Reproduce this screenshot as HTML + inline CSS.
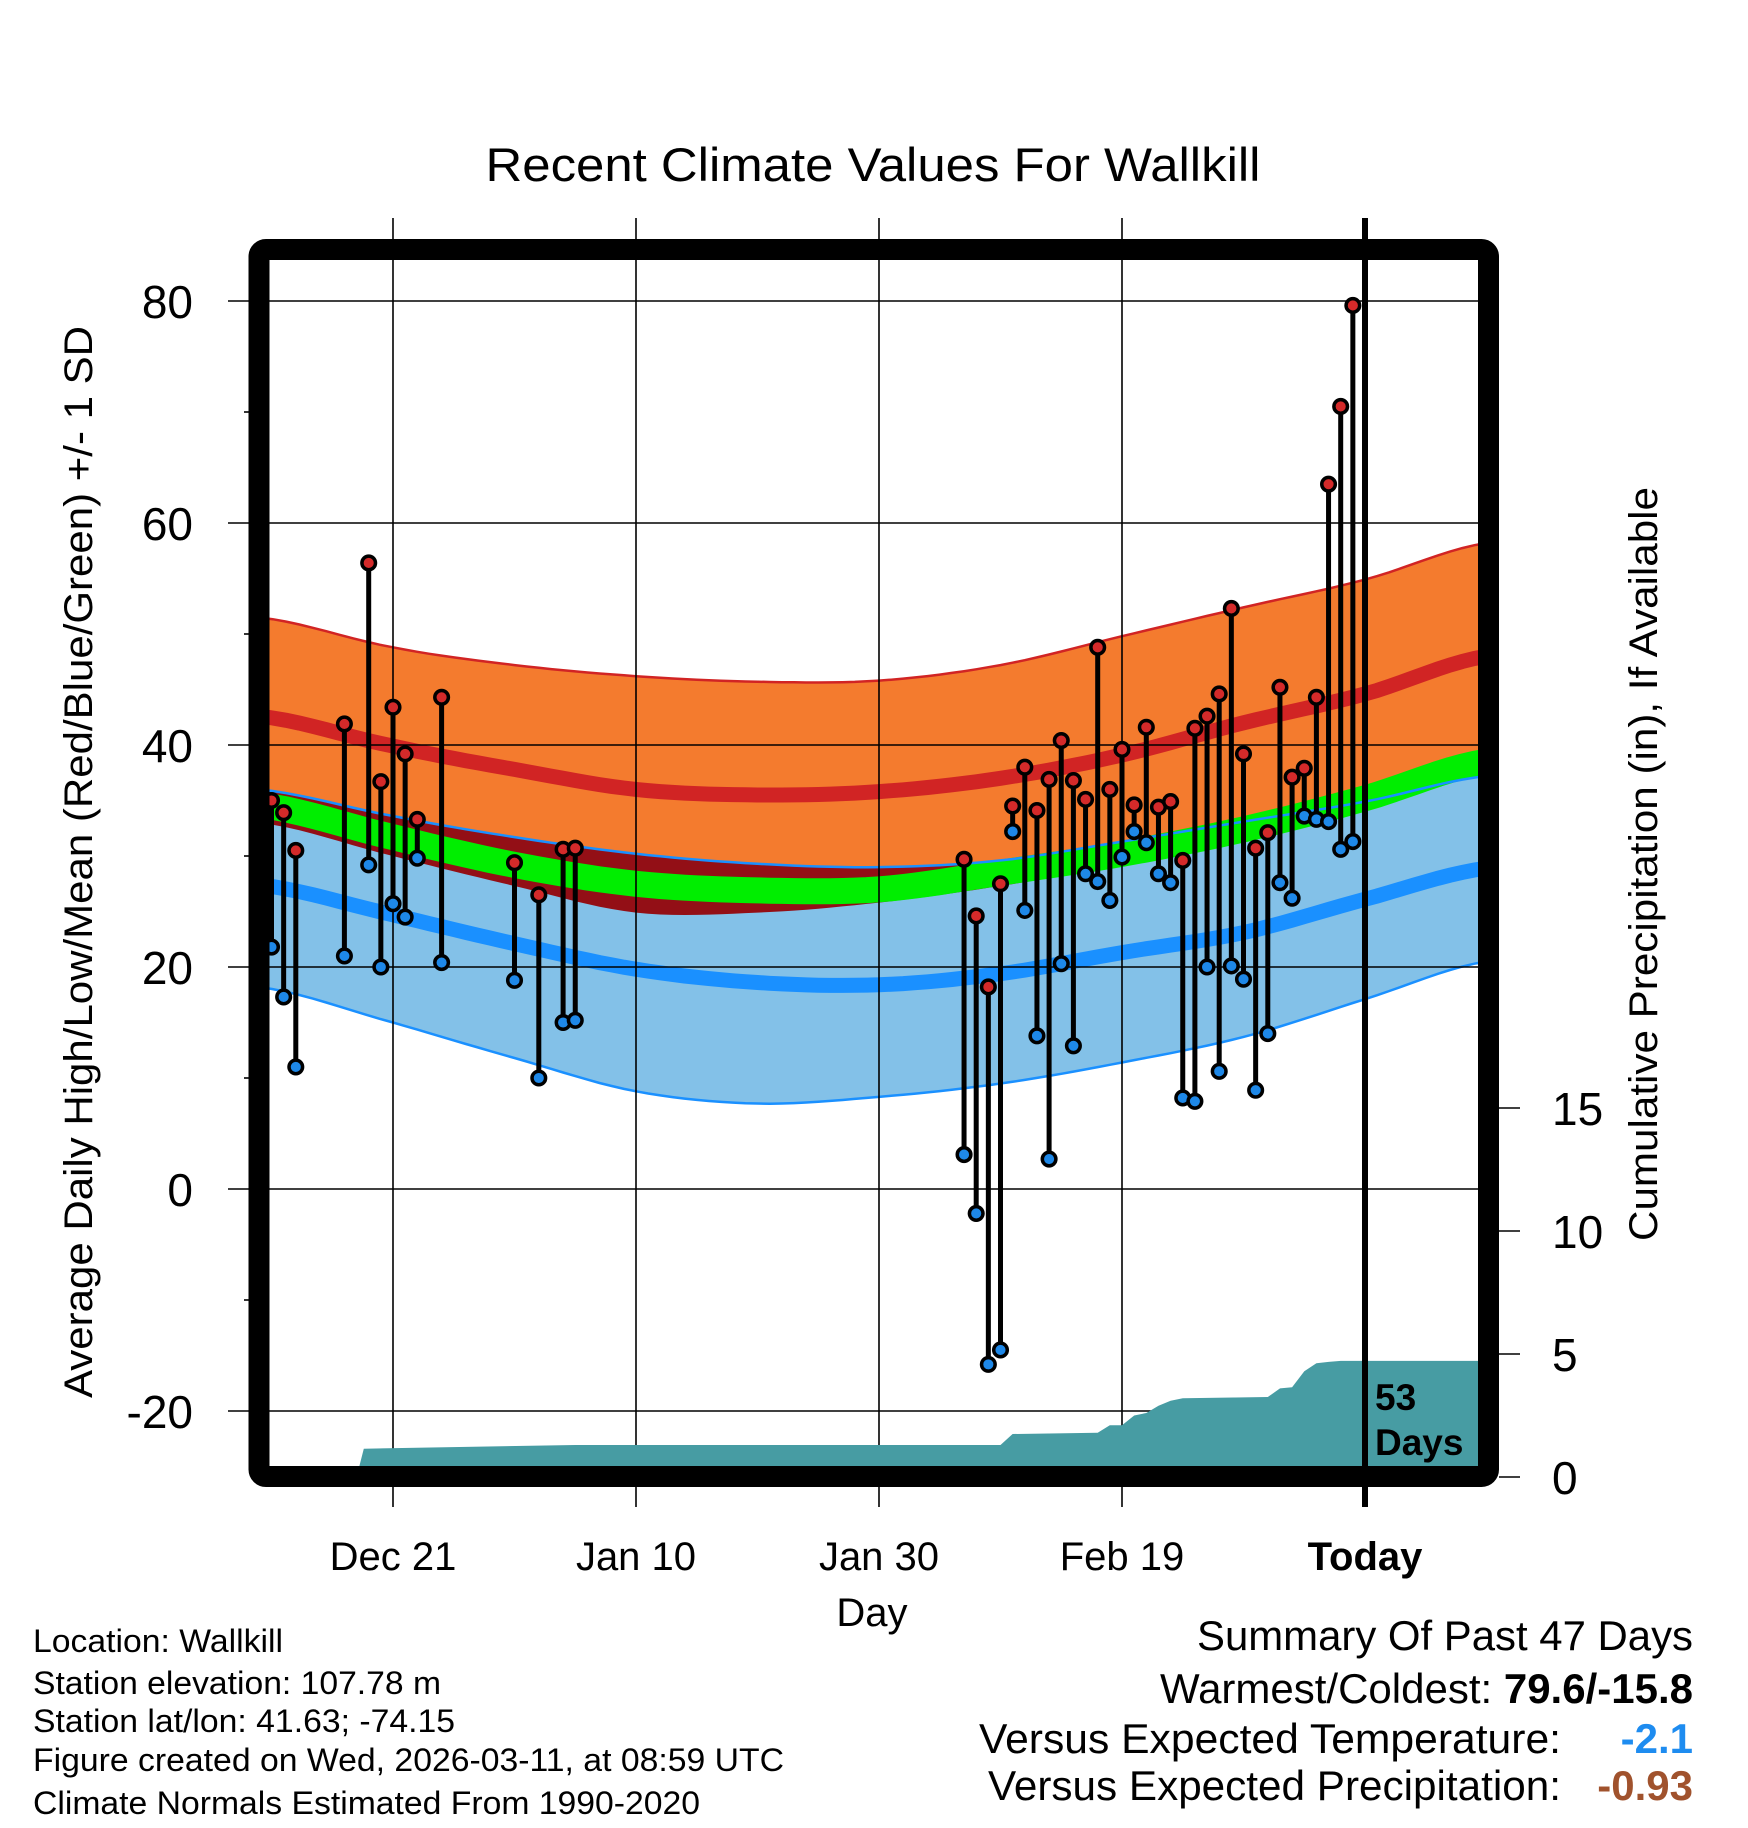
<!DOCTYPE html>
<html><head><meta charset="utf-8"><style>
html,body{margin:0;padding:0;background:#fff;}
svg{display:block;font-family:"Liberation Sans",sans-serif;}
</style></head><body>
<svg id="chart" width="1748" height="1828" viewBox="0 0 1748 1828" xmlns="http://www.w3.org/2000/svg">
<defs><clipPath id="plotclip"><rect x="269" y="260" width="1209" height="1206"/></clipPath></defs>
<rect x="0" y="0" width="1748" height="1828" fill="#fff"/>
<text x="873" y="181" font-size="47" text-anchor="middle" textLength="775" lengthAdjust="spacingAndGlyphs">Recent Climate Values For Wallkill</text>
<g id="bands" clip-path="url(#plotclip)"></g>
<g id="grid"></g>
<g id="precip" clip-path="url(#plotclip)"></g>
<g id="marks"></g>
<g id="axes"></g>
<rect x="259" y="249.5" width="1229.5" height="1227" rx="7" fill="none" stroke="#000" stroke-width="21"/>
<text x="1375" y="1410" font-size="37" font-weight="bold">53</text>
<text x="1375" y="1455" font-size="37" font-weight="bold">Days</text>
<text transform="translate(92,862) rotate(-90)" font-size="40" text-anchor="middle" textLength="1072" lengthAdjust="spacingAndGlyphs">Average Daily High/Low/Mean (Red/Blue/Green) +/- 1 SD</text>
<text transform="translate(1657,864) rotate(-90)" font-size="40" text-anchor="middle" textLength="754" lengthAdjust="spacingAndGlyphs">Cumulative Precipitation (in), If Available</text>
<text x="872" y="1626" font-size="40" text-anchor="middle">Day</text>
<g font-size="32">
<text x="33" y="1652" textLength="250" lengthAdjust="spacingAndGlyphs">Location: Wallkill</text>
<text x="33" y="1694" textLength="408" lengthAdjust="spacingAndGlyphs">Station elevation: 107.78 m</text>
<text x="33" y="1732" textLength="422" lengthAdjust="spacingAndGlyphs">Station lat/lon: 41.63; -74.15</text>
<text x="33" y="1771" textLength="751" lengthAdjust="spacingAndGlyphs">Figure created on Wed, 2026-03-11, at 08:59 UTC</text>
<text x="33" y="1814" textLength="667" lengthAdjust="spacingAndGlyphs">Climate Normals Estimated From 1990-2020</text>
</g>
<g font-size="42">
<text x="1197" y="1650" textLength="496" lengthAdjust="spacingAndGlyphs">Summary Of Past 47 Days</text>
<text x="1693" y="1703" text-anchor="end">Warmest/Coldest: <tspan font-weight="bold">79.6/-15.8</tspan></text>
<text x="979" y="1753" textLength="582" lengthAdjust="spacingAndGlyphs">Versus Expected Temperature:</text>
<text x="1693" y="1753" text-anchor="end" fill="#1e8cf0" font-weight="bold">-2.1</text>
<text x="988" y="1800" textLength="573" lengthAdjust="spacingAndGlyphs">Versus Expected Precipitation:</text>
<text x="1693" y="1800" text-anchor="end" fill="#a0522d" font-weight="bold">-0.93</text>
</g>
</svg>
<script>
// ---- data ----
const obsDays = [-10,-9,-8,-4,-2,-1,0,1,2,4,10,12,14,15,47,48,49,50,51,52,53,54,55,56,57,58,59,60,61,62,63,64,65,66,67,68,69,70,71,72,73,74,75,76,77,78,79];
const highs = [35,33.9,30.5,41.9,56.4,36.7,43.4,39.2,33.3,44.3,29.4,26.5,30.6,30.7,29.7,24.6,18.2,27.5,34.5,38,34.1,36.9,40.4,36.8,35.1,48.8,36,39.6,34.6,41.6,34.4,34.9,29.6,41.5,42.6,44.6,52.3,39.2,30.7,32.1,45.2,37.1,37.9,44.3,63.5,70.5,79.6];
const lows = [21.8,17.3,11,21,29.2,20,25.7,24.5,29.8,20.4,18.8,10,15,15.2,3.1,-2.2,-15.8,-14.5,32.2,25.1,13.8,2.7,20.3,12.9,28.4,27.7,26,29.9,32.2,31.2,28.4,27.6,8.2,7.9,20,10.6,20.1,18.9,8.9,14,27.6,26.2,33.6,33.3,33.1,30.6,31.3];
const normDays = [-11,0,10,20,30,40,50,60,70,80,90];
const hiUpper = [51.5,48.8,47.2,46.2,45.7,45.8,47.2,49.8,52.4,54.9,58.2];
const hiMean = [42.6,39.9,37.8,36.0,35.5,35.8,37.0,39.1,42.0,44.6,48.0];
const hiLower = [33.0,30.0,27.3,24.9,24.9,25.8,27.3,29.2,31.4,34.5,37.6];
const meanNorm = [34.6,31.7,29.2,27.5,26.9,27.0,28.5,30.2,32.4,35.2,38.5];
const loUpper = [36.0,33.6,31.7,30.2,29.3,29.0,29.6,31.3,33.1,34.9,37.2];
const loMean = [27.4,24.7,22.1,19.8,18.6,18.4,19.4,21.3,23.1,26.1,28.9];
const loLower = [18.2,15.0,11.8,8.8,7.7,8.3,9.5,11.4,13.7,17.1,20.5];
const precipDays = [-11,-3,-2.4,15,50,51,58,59,60,61,62,63,64,65,72,73,74,75,76,77,78,90];
const precipVals = [0,0,1.15,1.3,1.3,1.75,1.8,2.1,2.1,2.5,2.6,2.9,3.1,3.2,3.25,3.6,3.65,4.3,4.62,4.68,4.72,4.72];
const xTickDays = [0,20,40,60,80];
const xTickLabels = ['Dec 21','Jan 10','Jan 30','Feb 19','Today'];
const yTicks = [80,60,40,20,0,-20];
const yMinor = [70,50,30,10,-10];
const pTicks = [0,5,10,15];

// ---- scales ----
const xDay = d => 393 + d*12.15;
const yT = v => 1189 - v*11.1;
const yP = p => 1477 - p*24.6;
const NS = 'http://www.w3.org/2000/svg';
function mk(tag, parent, attrs){const e=document.createElementNS(NS,tag);for(const k in attrs)e.setAttribute(k,attrs[k]);parent.appendChild(e);return e;}

function smooth(days, vals){
  const pts=[];
  for(let i=0;i<days.length-1;i++){
    const p0=vals[Math.max(i-1,0)],p1=vals[i],p2=vals[i+1],p3=vals[Math.min(i+2,vals.length-1)];
    for(let s=0;s<10;s++){const t=s/10;
      const v=0.5*((2*p1)+(-p0+p2)*t+(2*p0-5*p1+4*p2-p3)*t*t+(-p0+3*p1-3*p2+p3)*t*t*t);
      pts.push([days[i]+(days[i+1]-days[i])*t,v]);}
  }
  pts.push([days[days.length-1],vals[vals.length-1]]);
  return pts;
}
function line(pts){return pts.map((p,i)=>(i?'L':'M')+xDay(p[0]).toFixed(1)+' '+yT(p[1]).toFixed(1)).join(' ');}
function band(top,bot){
  return line(top)+' '+bot.slice().reverse().map(p=>'L'+xDay(p[0]).toFixed(1)+' '+yT(p[1]).toFixed(1)).join(' ')+' Z';
}
const bands=document.getElementById('bands');
const sHU=smooth(normDays,hiUpper), sHM=smooth(normDays,hiMean), sHL=smooth(normDays,hiLower);
const sM=smooth(normDays,meanNorm), sLU=smooth(normDays,loUpper), sLM=smooth(normDays,loMean), sLL=smooth(normDays,loLower);

let el;
el=mk('path',bands,{d:band(sHU,sLU),fill:'#f47b2e'});


el=mk('path',bands,{d:band(sLU,sLL),fill:'#83c1e8'});


const sOv=sHL.map((p,i)=>[p[0],Math.min(p[1],sLU[i][1])]);
el=mk('path',bands,{d:band(sLU,sOv),fill:'#930f16'});


el=mk('path',bands,{d:line(sM),fill:'none',stroke:'#00ee00','stroke-width':26});


el=mk('path',bands,{d:line(sHM),fill:'none',stroke:'#d12424','stroke-width':15});


el=mk('path',bands,{d:line(sLM),fill:'none',stroke:'#1a90ff','stroke-width':15});


el=mk('path',bands,{d:line(sHU),fill:'none',stroke:'#d12424','stroke-width':2.5});


el=mk('path',bands,{d:line(sLU),fill:'none',stroke:'#1a90ff','stroke-width':2.5});


el=mk('path',bands,{d:line(sLL),fill:'none',stroke:'#1a90ff','stroke-width':2.5});



// grid + axes
const grid=document.getElementById('grid'), axes=document.getElementById('axes');
yTicks.forEach(v=>{
  el=mk('line',grid,{x1:228,x2:1478,y1:yT(v),y2:yT(v),stroke:'#000','stroke-width':1.6});
  
  
  el=mk('text',axes,{x:193,y:yT(v)+17,'font-size':46,'text-anchor':'end'});
  el.textContent=String(v);
  
  
});
yMinor.forEach(v=>{
  el=mk('line',axes,{x1:244,x2:252,y1:yT(v),y2:yT(v),stroke:'#000','stroke-width':1.6});
  
  
});
xTickDays.forEach((d,i)=>{
  const isToday = xTickLabels[i]==='Today';
  el=mk('line',grid,{x1:xDay(d),x2:xDay(d),y1:218,y2:1507,stroke:'#000','stroke-width':1.6});
  
  
  el=mk('text',axes,{x:xDay(d),y:1570,'font-size':40,'text-anchor':'middle','font-weight':isToday?'bold':'normal'});
  el.textContent=xTickLabels[i];
  
  
});
pTicks.forEach(p=>{
  el=mk('line',axes,{x1:1499,x2:1520,y1:yP(p),y2:yP(p),stroke:'#000','stroke-width':1.6});
  
  
  el=mk('text',axes,{x:1552,y:yP(p)+17,'font-size':46});
  el.textContent=String(p);
  
  
});

// precip area
const pg=document.getElementById('precip');
let pd='M'+xDay(precipDays[0])+' '+yP(0);
precipDays.forEach((d,i)=>{pd+=' L'+xDay(d).toFixed(1)+' '+yP(precipVals[i]).toFixed(1);});
pd+=' L'+xDay(precipDays[precipDays.length-1])+' '+yP(0)+' Z';
el=mk('path',pg,{d:pd,fill:'#479ca3'});



// today line
el=mk('line',axes,{x1:xDay(80),x2:xDay(80),y1:218,y2:1507,stroke:'#000','stroke-width':6});



// observations
const marks=document.getElementById('marks');
obsDays.forEach((d,i)=>{
  const x=xDay(d);
  el=mk('line',marks,{x1:x,x2:x,y1:yT(highs[i]),y2:yT(lows[i]),stroke:'#000','stroke-width':5});
  
  
  el=mk('circle',marks,{cx:x,cy:yT(lows[i]),r:6.8,fill:'#1e88e8',stroke:'#000','stroke-width':3.5});
  
  
  el=mk('circle',marks,{cx:x,cy:yT(highs[i]),r:6.8,fill:'#d42a2a',stroke:'#000','stroke-width':3.5});
  
  
});
</script>
</body></html>
